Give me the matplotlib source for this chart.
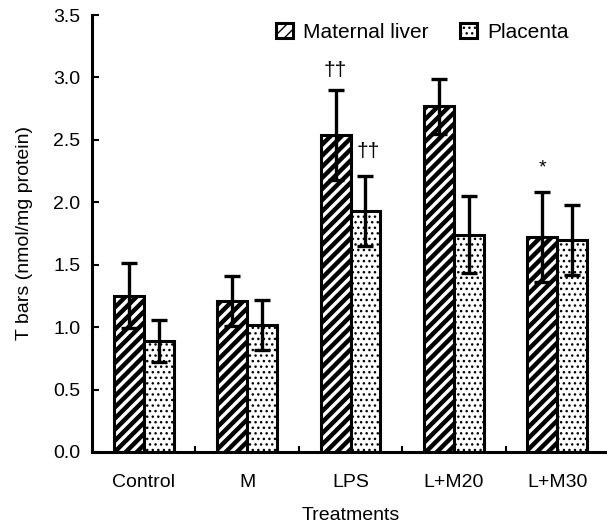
import numpy as np
import matplotlib
matplotlib.use("Agg")
import matplotlib.pyplot as plt

plt.rcParams["font.family"] = ["Liberation Sans", "DejaVu Sans"]

treatments = ["Control", "M", "LPS", "L+M20", "L+M30"]
liver = [1.25, 1.21, 2.54, 2.77, 1.72]
liver_err = [0.26, 0.20, 0.36, 0.22, 0.36]
placenta = [0.89, 1.02, 1.93, 1.74, 1.70]
placenta_err = [0.17, 0.20, 0.28, 0.31, 0.28]

fig = plt.figure(figsize=(6.07, 5.26), dpi=100)
ax = fig.add_axes([92 / 607, 74 / 526, 517 / 607, 437 / 526])

x = np.arange(len(treatments))
w = 0.29
err_kw = dict(ecolor="black", elinewidth=2.4, capsize=5.5, capthick=2.4)

plt.rcParams["hatch.linewidth"] = 3.2
b1 = ax.bar(x - w / 2, liver, w, yerr=liver_err, color="white", edgecolor="black",
            hatch="///", linewidth=2.2, label="Maternal liver", error_kw=err_kw)
plt.rcParams["hatch.linewidth"] = 1.0
b2 = ax.bar(x + w / 2, placenta, w, yerr=placenta_err, color="white", edgecolor="black",
            hatch="...", linewidth=2.2, label="Placenta", error_kw=err_kw)
for p in b1.patches:
    if hasattr(p, "set_hatch_linewidth"):
        p.set_hatch_linewidth(3.2)
for p in b2.patches:
    if hasattr(p, "set_hatch_linewidth"):
        p.set_hatch_linewidth(1.0)

ax.text(x[2] - w / 2, liver[2] + liver_err[2] + 0.08, "\u2020\u2020", ha="center",
        va="bottom", fontsize=15)
ax.text(x[2] + w / 2 + 0.03, placenta[2] + placenta_err[2] + 0.12, "\u2020\u2020",
        ha="center", va="bottom", fontsize=15)
ax.text(x[4] - w / 2, liver[4] + liver_err[4] + 0.13, "*", ha="center",
        va="bottom", fontsize=14)

ax.set_xlim(-0.5, 4.5)
ax.set_ylim(0, 3.5)
ax.set_yticks(np.arange(0, 3.51, 0.5))
ax.set_yticklabels([f"{v:.1f}" for v in np.arange(0, 3.51, 0.5)])
ax.set_xticks(x)
ax.set_xticklabels(treatments)
ax.set_xticks(x[:-1] + 0.5, minor=True)
ax.tick_params(axis="x", which="major", length=0, pad=15.5, labelsize=14)
ax.tick_params(axis="x", which="minor", direction="in", length=4, width=1.5)
ax.tick_params(axis="y", direction="in", length=5, width=1.5, pad=8.5, labelsize=14)

for s in ["top", "right"]:
    ax.spines[s].set_visible(False)
for s in ["left", "bottom"]:
    ax.spines[s].set_linewidth(2.2)

ax.set_ylabel("T bars (nmol/mg protein)", fontsize=14, labelpad=14.5)
ax.set_xlabel("Treatments", fontsize=14, labelpad=12)

ax.legend(loc="upper left", bbox_to_anchor=(0.32, 1.025), ncol=2, frameon=False,
          fontsize=15, handlelength=0.8, handleheight=0.7, columnspacing=1.5,
          handletextpad=0.5)

fig.savefig("out.png", dpi=100)
